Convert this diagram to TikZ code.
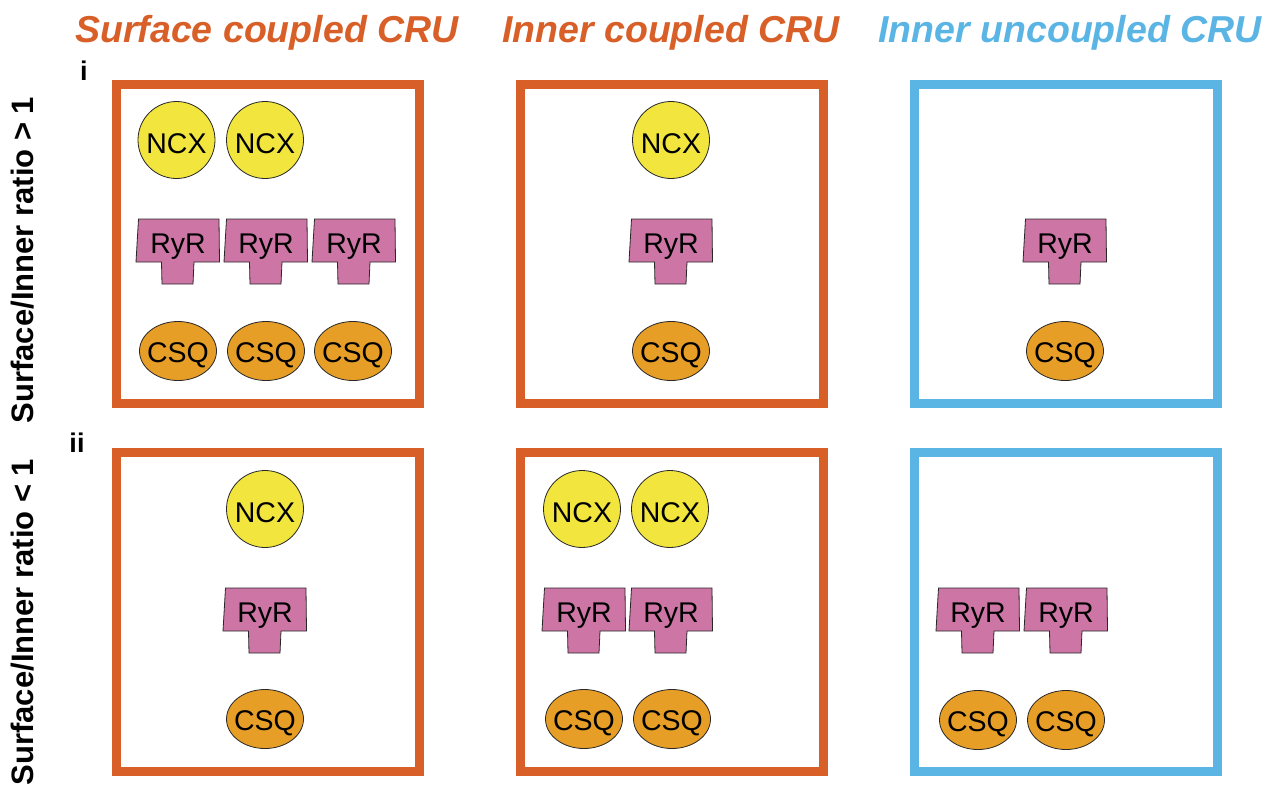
\documentclass[tikz,border=0pt]{standalone}
\usepackage{fontspec}
\setmainfont{Liberation Sans}
\usetikzlibrary{shapes.geometric}
\definecolor{cruorange}{RGB}{216,95,40}
\definecolor{crublue}{RGB}{90,180,228}
\definecolor{ncxyellow}{RGB}{241,229,62}
\definecolor{ryrpink}{RGB}{205,118,166}
\definecolor{csqorange}{RGB}{230,158,38}
\definecolor{edgegray}{RGB}{40,40,40}
\tikzset{
  crubox/.style={draw, line width=9pt, minimum width=303pt, minimum height=319pt, inner sep=0pt, outer sep=0pt},
  ncxshape/.style={circle, draw=edgegray, line width=0.8pt, fill=ncxyellow, minimum size=77pt, inner sep=0pt},
  csqshape/.style={ellipse, draw=edgegray, line width=0.8pt, fill=csqorange, minimum width=77pt, minimum height=59pt, inner sep=0pt},
  ryrshape/.style={draw=edgegray, line width=0.8pt, fill=ryrpink, line join=miter},
  lbl/.style={font=\fontsize{28.5}{33}\selectfont, inner sep=0pt, anchor=base, text=black},
  titletext/.style={font=\fontsize{37.5}{44}\selectfont\bfseries\itshape, inner sep=0pt, anchor=base},
  sidetext/.style={font=\fontsize{31}{36}\selectfont\bfseries, inner sep=0pt, anchor=base, rotate=90},
  rowtag/.style={font=\fontsize{27}{32}\selectfont\bfseries, inner sep=0pt, anchor=base}
}
\newcommand{\NCXat}[3]{%
  \node[ncxshape] (#1) at (#2,#3) {};
  \node[lbl] (#1-t) at ([yshift=-13.5pt]#1.center) {NCX};}
\newcommand{\CSQat}[3]{%
  \node[csqshape] (#1) at (#2,#3) {};
  \node[lbl] (#1-t) at ([yshift=-11pt]#1.center) {CSQ};}
\newcommand{\RyRat}[3]{%
  \path[ryrshape, shift={(#2,#3)}] (-39.5,-21.5) -- (41,-21.5) -- (41.5,21.5) -- (16,21.5) -- (15,43.5) -- (-16,43.5) -- (-16.5,21.5) -- (-42,21.5) -- cycle;
  \coordinate (#1) at (#2,#3);
  \node[lbl] (#1-t) at ([yshift=-12.5pt]#1) {RyR};}
\begin{document}
\begin{tikzpicture}[x=1pt, y=-1pt]
\useasboundingbox (0,0) rectangle (1275,793);
\fill[white] (0,0) rectangle (1275,793);

% titles
\node[titletext, text=cruorange] (title1) at (267,42) {Surface coupled CRU};
\node[titletext, text=cruorange] (title2) at (671,42) {Inner coupled CRU};
\node[titletext, text=crublue] (title3) at (1070,42) {Inner uncoupled CRU};

% row tags
\node[rowtag] (tagi) at (84,80) {i};
\node[rowtag] (tagii) at (77,452) {ii};

% side labels
\node[sidetext] (side1) at (33,260) {Surface/Inner ratio > 1};
\node[sidetext] (side2) at (33,622) {Surface/Inner ratio < 1};

% boxes
\node[crubox, draw=cruorange] (b11) at (268,243.5) {};
\node[crubox, draw=cruorange] (b12) at (672,243.5) {};
\node[crubox, draw=crublue]   (b13) at (1066,243.5) {};
\node[crubox, draw=cruorange] (b21) at (268,611.5) {};
\node[crubox, draw=cruorange] (b22) at (672,611.5) {};
\node[crubox, draw=crublue]   (b23) at (1066,611.5) {};

% row i, surface coupled
\NCXat{n11a}{176.5}{140}
\NCXat{n11b}{265}{140}
\RyRat{r11a}{178}{240.5}
\RyRat{r11b}{266}{240.5}
\RyRat{r11c}{354}{240.5}
\CSQat{c11a}{178}{351}
\CSQat{c11b}{266}{351}
\CSQat{c11c}{353}{351}

% row i, inner coupled
\NCXat{n12a}{671}{140}
\RyRat{r12a}{671}{240.5}
\CSQat{c12a}{671}{351}

% row i, inner uncoupled
\RyRat{r13a}{1065}{240.5}
\CSQat{c13a}{1065}{351}

% row ii, surface coupled
\NCXat{n21a}{265}{509}
\RyRat{r21a}{265}{609.5}
\CSQat{c21a}{265}{719}

% row ii, inner coupled
\NCXat{n22a}{582}{509}
\NCXat{n22b}{670}{509}
\RyRat{r22a}{584}{609.5}
\RyRat{r22b}{671}{609.5}
\CSQat{c22a}{584}{719}
\CSQat{c22b}{672}{719}

% row ii, inner uncoupled
\RyRat{r23a}{978}{609.5}
\RyRat{r23b}{1066}{609.5}
\CSQat{c23a}{978}{720}
\CSQat{c23b}{1066}{720}
\end{tikzpicture}
\end{document}
